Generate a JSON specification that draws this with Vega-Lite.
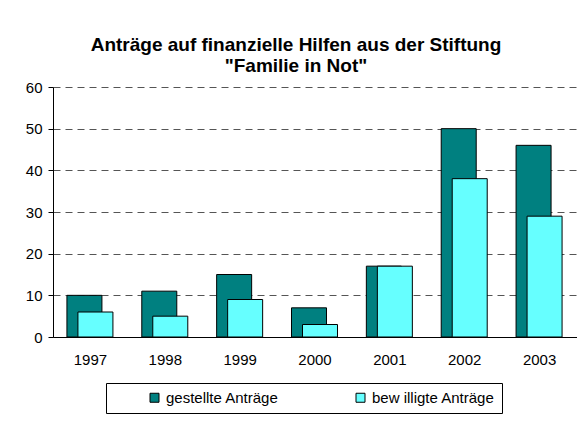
{
  "$schema": "https://vega.github.io/schema/vega-lite/v6.json",
  "width": 524,
  "height": 250,
  "autosize": "none",
  "padding": {"left": 53, "top": 87, "right": 0, "bottom": 94},
  "background": "white",
  "title": {
    "text": ["Anträge auf finanzielle Hilfen aus der Stiftung", "\"Familie in Not\""],
    "font": "Liberation Sans",
    "fontSize": 19,
    "fontWeight": "bold",
    "color": "black",
    "anchor": "middle",
    "dx": -19,
    "offset": 4,
    "lineHeight": 21
  },
  "data": {
    "values": [
      {"year": "1997", "series": "gestellte Anträge", "value": 10},
      {"year": "1998", "series": "gestellte Anträge", "value": 11},
      {"year": "1999", "series": "gestellte Anträge", "value": 15},
      {"year": "2000", "series": "gestellte Anträge", "value": 7},
      {"year": "2001", "series": "gestellte Anträge", "value": 17},
      {"year": "2002", "series": "gestellte Anträge", "value": 50},
      {"year": "2003", "series": "gestellte Anträge", "value": 46},
      {"year": "1997", "series": "bew illigte Anträge", "value": 6},
      {"year": "1998", "series": "bew illigte Anträge", "value": 5},
      {"year": "1999", "series": "bew illigte Anträge", "value": 9},
      {"year": "2000", "series": "bew illigte Anträge", "value": 3},
      {"year": "2001", "series": "bew illigte Anträge", "value": 17},
      {"year": "2002", "series": "bew illigte Anträge", "value": 38},
      {"year": "2003", "series": "bew illigte Anträge", "value": 29}
    ]
  },
  "encoding": {
    "x": {
      "field": "year",
      "type": "ordinal",
      "scale": {"paddingInner": 0, "paddingOuter": 0},
      "axis": {
        "title": null,
        "labelAngle": 0,
        "ticks": false,
        "labelPadding": 15,
        "grid": false
      }
    },
    "y": {
      "field": "value",
      "type": "quantitative",
      "scale": {"domain": [0, 60], "nice": false},
      "axis": {
        "title": null,
        "values": [0, 10, 20, 30, 40, 50, 60],
        "grid": true,
        "gridDash": [7, 5],
        "gridColor": "#555555",
        "tickSize": 5,
        "labelPadding": 6
      }
    },
    "color": {
      "field": "series",
      "type": "nominal",
      "scale": {
        "domain": ["gestellte Anträge", "bew illigte Anträge"],
        "range": ["#008080", "#66FFFF"]
      },
      "legend": {
        "title": null,
        "orient": "none",
        "legendX": 53,
        "legendY": 296,
        "direction": "horizontal"
      }
    }
  },
  "layer": [
    {
      "transform": [{"filter": "datum.series === 'gestellte Anträge'"}],
      "mark": {"type": "bar", "width": 35, "xOffset": -6, "stroke": "black"}
    },
    {
      "transform": [{"filter": "datum.series === 'bew illigte Anträge'"}],
      "mark": {"type": "bar", "width": 35, "xOffset": 5, "stroke": "black"}
    }
  ],
  "config": {
    "font": "Liberation Sans",
    "view": {"stroke": null},
    "bar": {"strokeWidth": 1},
    "axis": {
      "domainColor": "black",
      "tickColor": "black",
      "labelFont": "Liberation Sans",
      "labelFontSize": 15,
      "labelColor": "black"
    },
    "legend": {
      "strokeColor": "black",
      "fillColor": "white",
      "padding": 7,
      "symbolType": "square",
      "symbolSize": 81,
      "symbolStrokeColor": "black",
      "symbolStrokeWidth": 1,
      "symbolOffset": 34,
      "labelOffset": 4,
      "columnPadding": 40,
      "labelFont": "Liberation Sans",
      "labelFontSize": 15,
      "labelColor": "black",
      "labelLimit": 400
    }
  }
}
